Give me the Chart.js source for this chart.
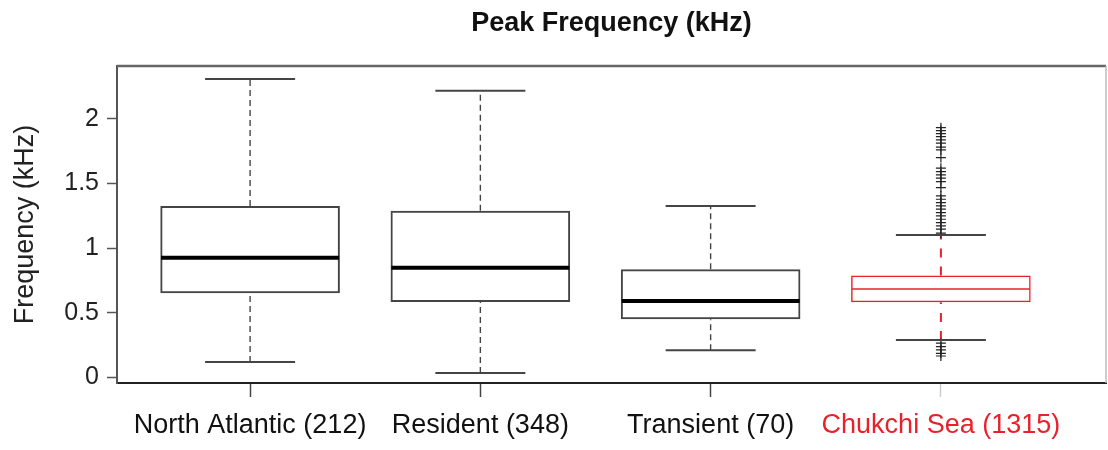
<!DOCTYPE html>
<html>
<head>
<meta charset="utf-8">
<script src="https://cdn.jsdelivr.net/npm/chart.js@4"></script>
<style>
  body { margin: 0; background: #fff; }
  #caixa { width: 1108px; height: 450px; }
</style>
</head>
<body>
<div id="caixa"><canvas id="grafico"></canvas></div>
<script>
const categorias = ["North Atlantic (212)", "Resident (348)", "Transient (70)", "Chukchi Sea (1315)"];
const limiteInf = [0.12, 0.035, 0.21, 0.29];
const q1 = [0.652, 0.584, 0.45, 0.582];
const mediana = [0.927, 0.848, 0.592, 0.685];
const q3 = [1.327, 1.289, 0.837, 0.788];
const limiteSup = [2.31, 2.218, 1.327, 1.103];
const outliersChukchi = [1.933, 1.91, 1.887, 1.864, 1.838, 1.813, 1.782, 1.761, 1.701,
  1.619, 1.593, 1.567, 1.542, 1.515, 1.469, 1.405, 1.379, 1.353, 1.327, 1.302, 1.276,
  1.25, 1.224, 1.198, 1.173, 1.147, 1.116, 0.265, 0.238, 0.213, 0.187, 0.166];
const ticksY = [0, 0.5, 1, 1.5, 2];

const VERMELHO = "#e9212b";
const PRETO = "#444";
const corGrupo = i => (i === 3 ? VERMELHO : PRETO);

// bigodes tracejados: q3 -> limite superior e limite inferior -> q1
const bigodes = grupos => grupos.flatMap(i => [
  { x: i + 1, y: q3[i] }, { x: i + 1, y: limiteSup[i] }, { x: i + 1, y: null },
  { x: i + 1, y: limiteInf[i] }, { x: i + 1, y: q1[i] }, { x: i + 1, y: null }
]);

const moldura = {
  id: "moldura",
  afterDraw(chart) {
    const { ctx, chartArea: a } = chart;
    ctx.save();
    ctx.strokeStyle = "#666";
    ctx.lineWidth = 2.5;
    ctx.beginPath();
    ctx.moveTo(a.left, a.top);
    ctx.lineTo(a.right, a.top);
    ctx.stroke();
    ctx.strokeStyle = "#bbb";
    ctx.lineWidth = 1.5;
    ctx.beginPath();
    ctx.moveTo(a.right, a.top);
    ctx.lineTo(a.right, a.bottom);
    ctx.stroke();
    ctx.restore();
  }
};

new Chart(document.getElementById("grafico"), {
  type: "bar",
  data: {
    datasets: [
      {
        type: "scatter",
        order: 1,
        data: mediana.map((v, i) => ({ x: i + 1, y: v })),
        pointStyle: "line",
        pointRadius: 89,
        pointBorderColor: categorias.map((c, i) => (i === 3 ? VERMELHO : "#000")),
        pointBorderWidth: [4, 4, 4, 1.5],
        pointBackgroundColor: "transparent"
      },
      {
        type: "scatter",
        order: 1,
        data: [...limiteSup, ...limiteInf].map((v, i) => ({ x: (i % 4) + 1, y: v })),
        pointStyle: "line",
        pointRadius: 45,
        pointBorderColor: PRETO,
        pointBorderWidth: 2
      },
      {
        type: "scatter",
        order: 1,
        data: outliersChukchi.map(v => ({ x: 4, y: v })),
        pointStyle: "cross",
        pointRadius: 5,
        pointBorderColor: "#222",
        pointBorderWidth: 1.2
      },
      {
        type: "line",
        order: 2,
        data: bigodes([0, 1, 2]),
        borderColor: "#444",
        borderWidth: 1.4,
        borderDash: [6, 4],
        pointRadius: 0,
        spanGaps: false
      },
      {
        type: "line",
        order: 2,
        data: bigodes([3]),
        borderColor: VERMELHO,
        borderWidth: 2,
        borderDash: [9, 9],
        pointRadius: 0,
        spanGaps: false
      },
      {
        type: "bar",
        order: 3,
        data: q1.map((v, i) => ({ x: i + 1, y: [v, q3[i]] })),
        backgroundColor: "rgba(255,255,255,0)",
        borderColor: categorias.map((c, i) => corGrupo(i)),
        borderWidth: [2, 2, 2, 1.5],
        borderSkipped: false,
        barPercentage: 0.78,
        categoryPercentage: 1,
        grouped: false
      }
    ]
  },
  options: {
    responsive: true,
    maintainAspectRatio: false,
    animation: false,
    layout: { autoPadding: false, padding: { top: 0, right: 2, bottom: 0, left: 0 } },
    plugins: {
      legend: { display: false },
      tooltip: { enabled: false },
      title: {
        display: true,
        fullSize: false,
        text: "Peak Frequency (kHz)",
        color: "#111",
        font: { family: "'Liberation Sans', Arial, sans-serif", size: 27, weight: "bold" },
        padding: { top: 7, bottom: 26.6 }
      }
    },
    scales: {
      x: {
        type: "linear",
        offset: false,
        min: 0.422,
        max: 4.717,
        afterBuildTicks: s => { s.ticks = categorias.map((c, i) => ({ value: i + 1 })); },
        afterFit: s => { s.height = 67; },
        ticks: {
          callback: (v, i) => categorias[i],
          color: ctx => (ctx.index === 3 ? VERMELHO : "#111"),
          font: { family: "'Liberation Sans', Arial, sans-serif", size: 27 },
          padding: 12,
          maxRotation: 0,
          autoSkip: false
        },
        grid: {
          offset: false,
          drawOnChartArea: false,
          tickLength: 14,
          tickWidth: 1.5,
          tickColor: ctx => (ctx.index === 3 ? "#ccc" : "#444")
        },
        border: { color: "#222", width: 2 }
      },
      y: {
        min: -0.043,
        max: 2.41,
        afterBuildTicks: s => { s.ticks = ticksY.map(v => ({ value: v })); },
        afterFit: s => { s.width = 117; },
        ticks: {
          callback: v => String(v),
          color: "#222",
          font: { family: "'Liberation Sans', Arial, sans-serif", size: 25 },
          padding: 8
        },
        grid: {
          drawOnChartArea: false,
          tickLength: 10,
          tickWidth: 1.5,
          tickColor: "#555"
        },
        border: { color: "#555", width: 2 },
        title: {
          display: true,
          text: "Frequency (kHz)",
          color: "#222",
          font: { family: "'Liberation Sans', Arial, sans-serif", size: 27 },
          padding: { top: 9, bottom: 0 }
        }
      }
    }
  },
  plugins: [moldura]
});
</script>
</body>
</html>
